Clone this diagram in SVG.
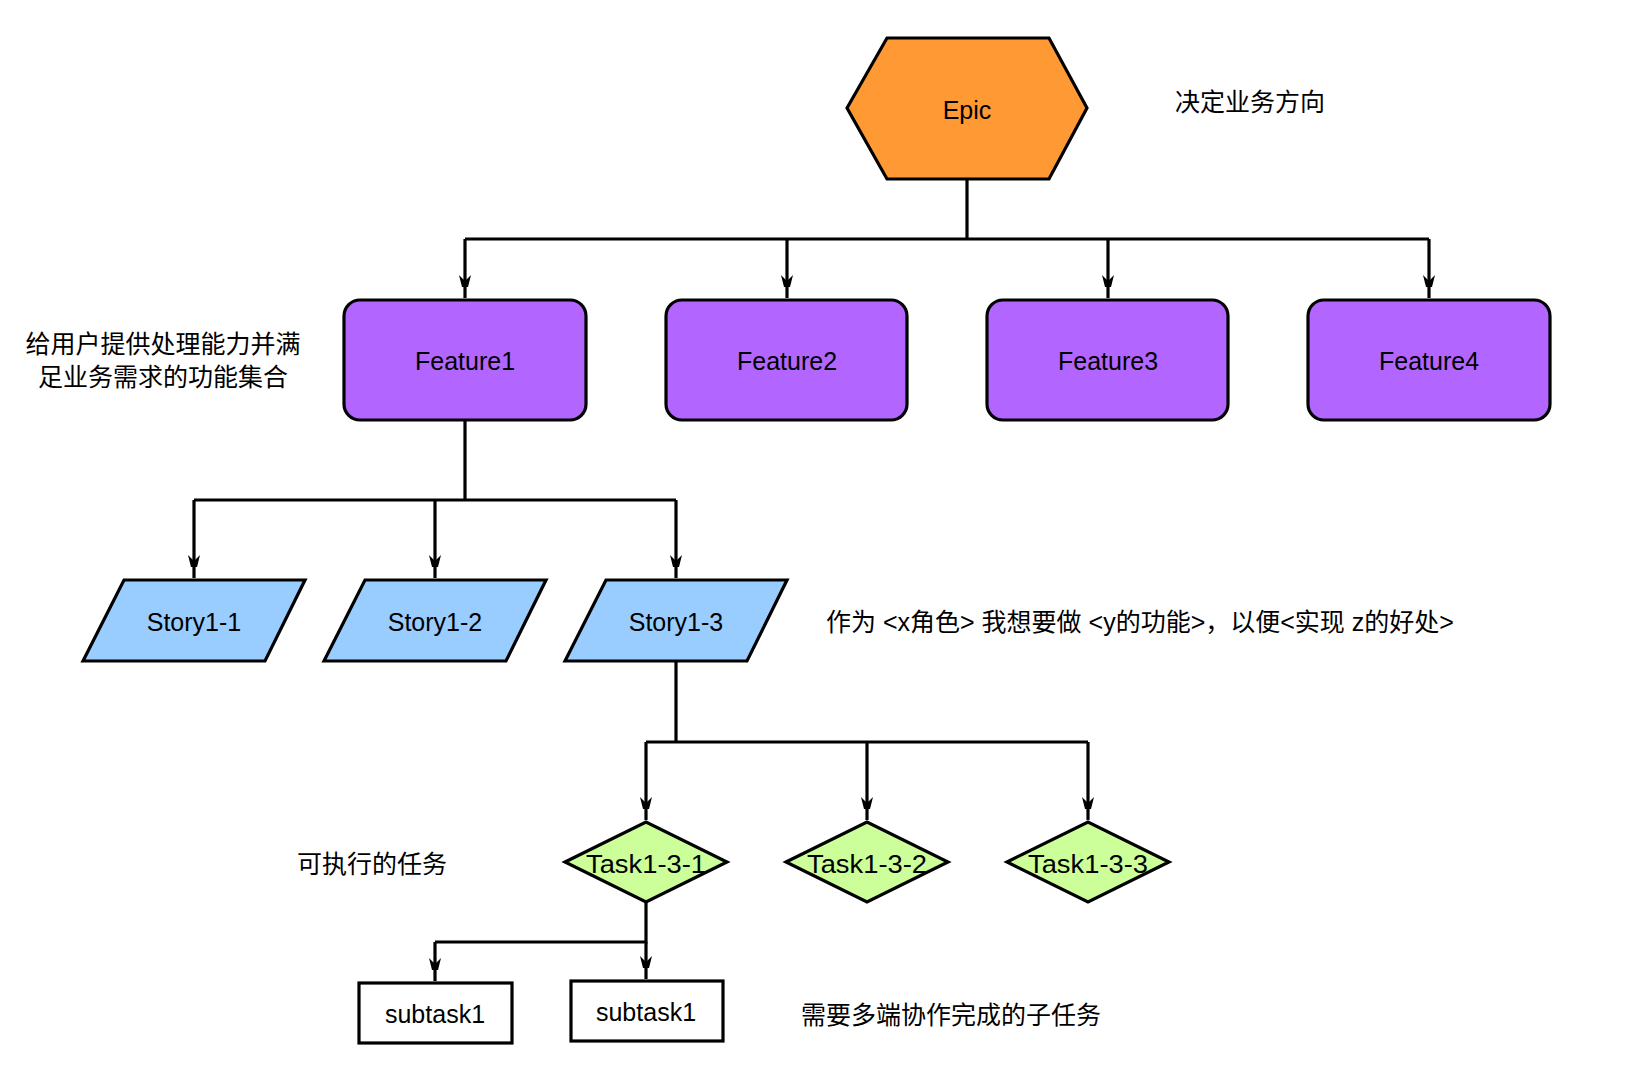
<svg xmlns="http://www.w3.org/2000/svg" width="1642" height="1090" viewBox="0 0 1642 1090">
<style>
.s{stroke:#000;stroke-width:3.2}
.t{font-family:"Liberation Sans",Arial,sans-serif;font-size:25px;text-anchor:middle;dominant-baseline:central;fill:#000}
.c{font-family:"Liberation Sans","Noto Sans CJK SC",sans-serif;font-size:25px;fill:#000;dominant-baseline:central}
.l{fill:none;stroke:#000;stroke-width:3.2}
</style>
<defs><marker id="a" markerWidth="10" markerHeight="12" refX="5" refY="11" orient="auto-start-reverse" markerUnits="userSpaceOnUse" viewBox="0 0 10 12"><path d="M0,0 L5,3 L10,0 L5,12z" transform="rotate(0)"/></marker>
<marker id="d" viewBox="0 0 12 24" markerWidth="12" markerHeight="24" refX="23" refY="6" orient="auto" markerUnits="userSpaceOnUse"><path d="M0,0 L24,6 L0,12 L6,6z"/></marker></defs>
<rect width="1642" height="1090" fill="#fff"/>
<g id="connectors" class="l">
<path d="M967,179 V239 M465,239 H1429"/>
<path d="M465,239 V298" marker-end="url(#d)"/><path d="M787,239 V298" marker-end="url(#d)"/><path d="M1108,239 V298" marker-end="url(#d)"/><path d="M1429,239 V298" marker-end="url(#d)"/>
<path d="M465,420 V500 M194,500 H676"/>
<path d="M194,500 V578" marker-end="url(#d)"/><path d="M435,500 V578" marker-end="url(#d)"/><path d="M676,500 V578" marker-end="url(#d)"/>
<path d="M676,661 V742 M646,742 H1088"/>
<path d="M646,742 V820" marker-end="url(#d)"/><path d="M867,742 V820" marker-end="url(#d)"/><path d="M1088,742 V820" marker-end="url(#d)"/>
<path d="M646,902 V942 H435"/>
<path d="M435,942 V981" marker-end="url(#d)"/><path d="M646,942 V979" marker-end="url(#d)"/>
</g>
<g id="epic"><polygon class="s" fill="#ff9933" points="847,108 887,38 1049,38 1087,108 1049,179 887,179"/><text class="t" x="967" y="110">Epic</text></g>
<g id="f1"><rect class="s" fill="#b266ff" x="344" y="300" width="242" height="120" rx="16"/><text class="t" x="465" y="361">Feature1</text></g>
<g id="f2"><rect class="s" fill="#b266ff" x="666" y="300" width="241" height="120" rx="16"/><text class="t" x="787" y="361">Feature2</text></g>
<g id="f3"><rect class="s" fill="#b266ff" x="987" y="300" width="241" height="120" rx="16"/><text class="t" x="1108" y="361">Feature3</text></g>
<g id="f4"><rect class="s" fill="#b266ff" x="1308" y="300" width="242" height="120" rx="16"/><text class="t" x="1429" y="361">Feature4</text></g>
<g id="s1"><polygon class="s" fill="#99ccff" points="83,661 124,580 305,580 265,661"/><text class="t" x="194" y="622">Story1-1</text></g>
<g id="s2"><polygon class="s" fill="#99ccff" points="324,661 365,580 546,580 506,661"/><text class="t" x="435" y="622">Story1-2</text></g>
<g id="s3"><polygon class="s" fill="#99ccff" points="565,661 606,580 787,580 747,661"/><text class="t" x="676" y="622">Story1-3</text></g>
<g id="t1"><polygon class="s" fill="#ccff99" points="565,862 646,822 727,862 646,902"/><text class="t" x="646" y="864" textLength="120" lengthAdjust="spacingAndGlyphs">Task1-3-1</text></g>
<g id="t2"><polygon class="s" fill="#ccff99" points="786,862 867,822 948,862 867,902"/><text class="t" x="867" y="864" textLength="120" lengthAdjust="spacingAndGlyphs">Task1-3-2</text></g>
<g id="t3"><polygon class="s" fill="#ccff99" points="1007,862 1088,822 1169,862 1088,902"/><text class="t" x="1088" y="864" textLength="120" lengthAdjust="spacingAndGlyphs">Task1-3-3</text></g>
<g id="st1"><rect class="s" fill="#fff" x="359" y="983" width="153" height="60"/><text class="t" x="435" y="1014">subtask1</text></g>
<g id="st2"><rect class="s" fill="#fff" x="571" y="981" width="152" height="60"/><text class="t" x="646" y="1012">subtask1</text></g>
<g id="notes">
<text class="c" x="1175" y="102">决定业务方向</text>
<text class="c" x="163" y="344" text-anchor="middle">给用户提供处理能力并满</text>
<text class="c" x="163" y="377" text-anchor="middle">足业务需求的功能集合</text>
<text class="c" x="826" y="622">作为 &lt;x角色&gt; 我想要做 &lt;y的功能&gt;，以便&lt;实现 z的好处&gt;</text>
<text class="c" x="372" y="864" text-anchor="middle">可执行的任务</text>
<text class="c" x="801" y="1015">需要多端协作完成的子任务</text>
</g>
</svg>
